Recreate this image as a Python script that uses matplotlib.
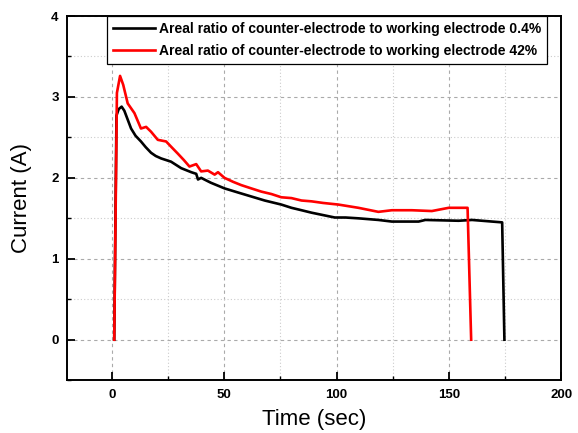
import matplotlib
matplotlib.use("Agg")
import matplotlib.pyplot as plt
from matplotlib.ticker import MultipleLocator

plt.rcParams['font.family'] = ['Liberation Sans', 'DejaVu Sans']

# 0.4 % counter-electrode (black)
t_small = [1.0, 2.0, 3.0, 4.3, 5.5, 7.0, 8.5, 10.5, 12.9, 15.0, 17.4, 19.5, 21.9, 26.3,
           30.8, 35.3, 37.5, 38.3, 39.7, 44.0, 50.1, 56.0, 62.0, 68.0, 75.4, 79.9,
           84.4, 88.8, 94.0, 99.2, 104.0, 109.7, 118.6, 124.6, 136.5, 139.5, 154.3,
           160.3, 169.2, 173.7, 174.7]
i_small = [0.0, 2.77, 2.85, 2.88, 2.83, 2.72, 2.61, 2.52, 2.45, 2.38, 2.31, 2.27, 2.24,
           2.20, 2.12, 2.07, 2.05, 1.98, 2.00, 1.94, 1.87, 1.82, 1.77, 1.72, 1.67, 1.63,
           1.60, 1.57, 1.54, 1.51, 1.51, 1.50, 1.48, 1.46, 1.46, 1.48, 1.47, 1.48,
           1.46, 1.45, 0.0]

# 42 % counter-electrode (red)
t_large = [1.0, 2.2, 3.6, 5.0, 7.0, 10.0, 12.9, 15.2, 17.4, 20.4, 24.1, 26.5, 29.3,
           32.0, 34.5, 37.5, 39.7, 42.7, 45.7, 47.2, 50.1, 54.0, 57.6, 62.0, 66.5,
           71.0, 75.4, 79.9, 84.4, 88.8, 94.0, 100.8, 109.7, 118.6, 124.6, 133.5,
           142.4, 149.9, 158.3, 159.9]
i_large = [0.0, 3.05, 3.26, 3.15, 2.92, 2.80, 2.61, 2.63, 2.57, 2.47, 2.45, 2.38, 2.30,
           2.22, 2.14, 2.17, 2.08, 2.09, 2.04, 2.07, 2.00, 1.95, 1.91, 1.87, 1.83,
           1.80, 1.76, 1.75, 1.72, 1.71, 1.69, 1.67, 1.63, 1.58, 1.60, 1.60, 1.59,
           1.63, 1.63, 0.0]

labels = ["Areal ratio of counter-electrode to working electrode 0.4%",
          "Areal ratio of counter-electrode to working electrode 42%"]

fig = plt.figure(figsize=(5.78, 4.33), dpi=100)
ax = fig.add_axes([0.116, 0.122, 0.855, 0.841])

ax.plot(t_small, i_small, color='black', lw=1.9, label=labels[0], zorder=3)
ax.plot(t_large, i_large, color='#ff0000', lw=1.9, label=labels[1], zorder=4)

ax.set_xlim(-20, 200)
ax.set_ylim(-0.5, 4)
ax.xaxis.set_major_locator(MultipleLocator(50))
ax.xaxis.set_minor_locator(MultipleLocator(25))
ax.yaxis.set_major_locator(MultipleLocator(1))
ax.yaxis.set_minor_locator(MultipleLocator(0.5))

ax.grid(which='major', color='#aaaaaa', ls=(0, (3, 3)), lw=0.8)
ax.grid(which='minor', color='#cccccc', ls=(0, (1, 2)), lw=0.8)
ax.set_axisbelow(True)

ax.tick_params(which='major', direction='in', length=6, width=1.3, labelsize=9.5,
               top=False, right=False, pad=6)
ax.tick_params(which='minor', direction='in', length=3, width=1.0, top=False, right=False)
for lab in ax.get_xticklabels() + ax.get_yticklabels():
    lab.set_fontweight('bold')
for sp in ax.spines.values():
    sp.set_linewidth(1.4)

ax.set_xlabel("Time (sec)", fontsize=16, labelpad=6)
ax.set_ylabel("Current (A)", fontsize=16, labelpad=14)

leg = ax.legend(loc='upper right', bbox_to_anchor=(0.972, 1.0), borderaxespad=0,
                prop={'weight': 'bold', 'size': 10}, fancybox=False, framealpha=1,
                edgecolor='black', handlelength=3.0, handletextpad=0.3,
                borderpad=0.45, labelspacing=0.55)
leg.get_frame().set_linewidth(0.9)

fig.savefig("out.png", dpi=100)
